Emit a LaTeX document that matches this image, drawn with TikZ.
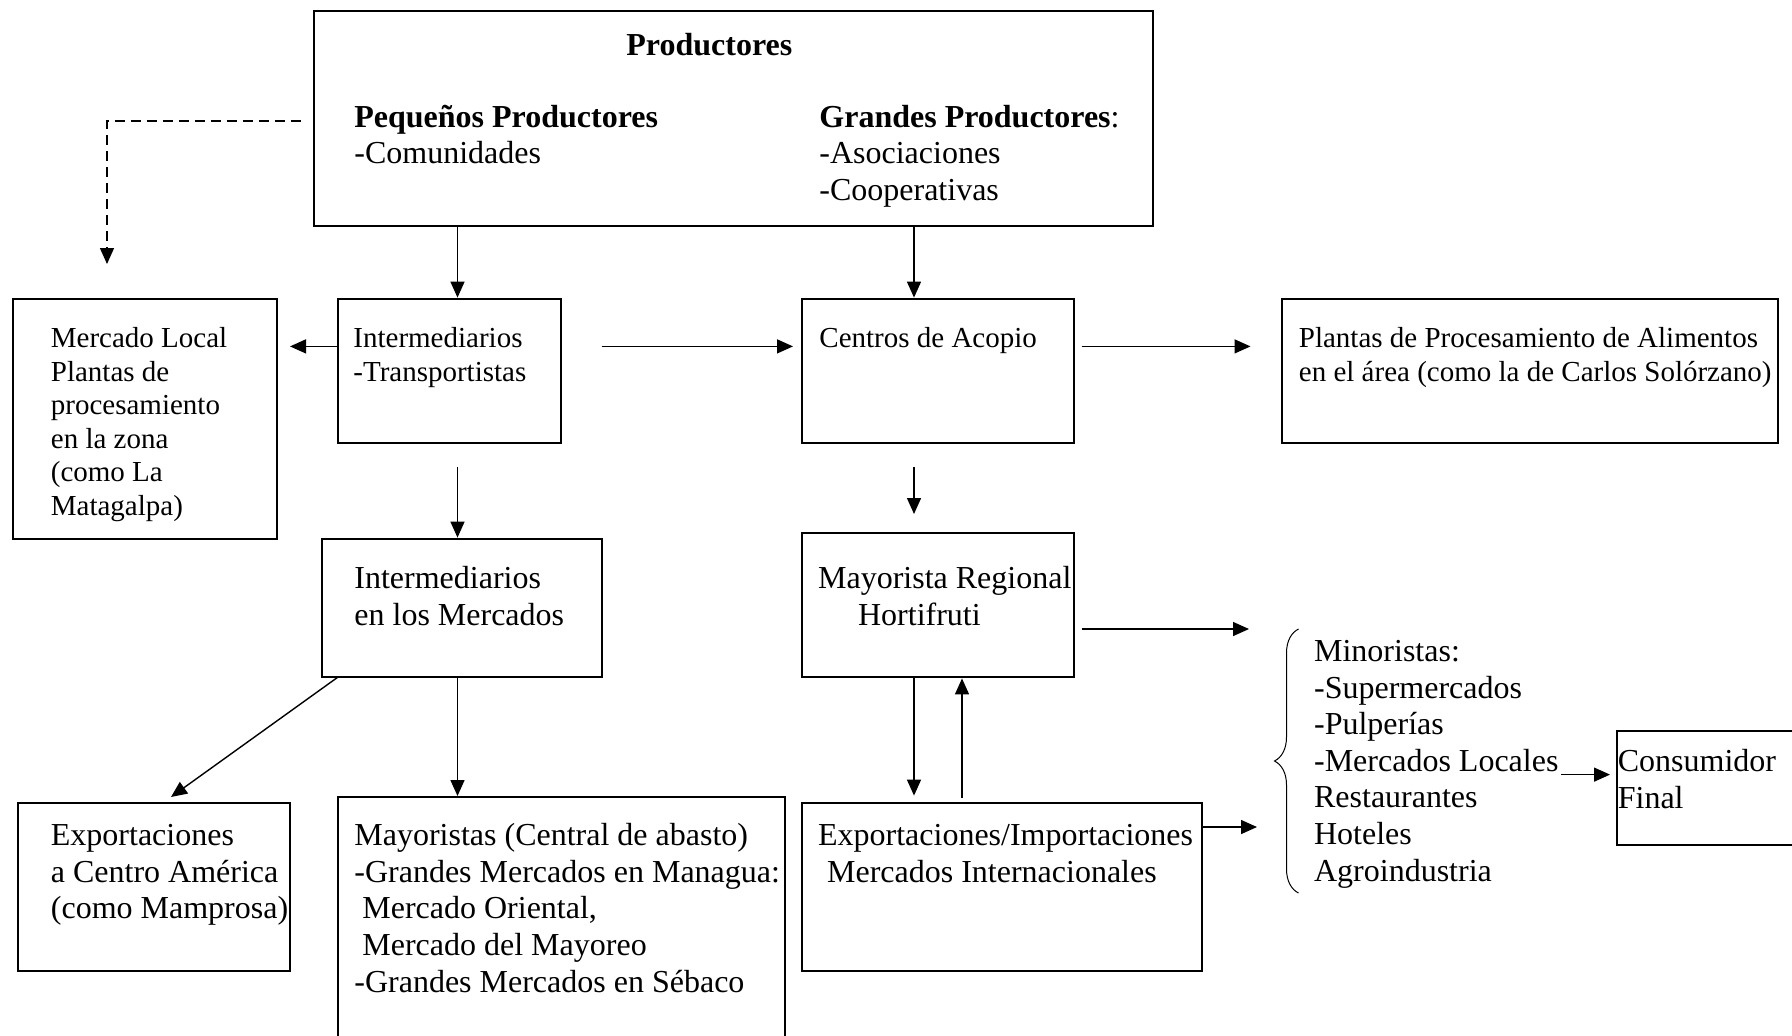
\documentclass[tikz,border=0pt]{standalone}
\usepackage{fontspec}
\setmainfont{Liberation Serif}
\usetikzlibrary{arrows.meta,fit,decorations.pathreplacing}
\newcommand\mylines[1]{\begin{tabular}[t]{@{}l@{}}#1\end{tabular}}
\begin{document}
\begin{tikzpicture}[x=0.5pt,y=-0.5pt,
  box/.style={draw,line width=1pt,inner sep=0pt},
  big/.style={inner sep=0pt,anchor=base west,font=\fontsize{16}{18.3}\selectfont},
  small/.style={inner sep=0pt,anchor=base west,font=\fontsize{14.5}{16.8}\selectfont},
  arr/.style={line width=0.7pt,-{Triangle[length=8pt,width=7pt]}},
  dasharr/.style={arr,dash pattern=on 5pt off 3pt}]
\useasboundingbox (0,0) rectangle (1792,1035);
\clip (0,0) rectangle (1792,1035);
% boxes
\node[box,fit={(314,11) (1153,226)}] (prod) {};
\node[box,fit={(12.6,299) (276.7,538.6)}] (mlocal) {};
\node[box,fit={(337.5,298.6) (561.4,443)}] (inter1) {};
\node[box,fit={(802,298.6) (1074,443)}] (centros) {};
\node[box,fit={(1282,298.6) (1777.5,443)}] (plantas) {};
\node[box,fit={(322,538.6) (601.6,677.4)}] (inter2) {};
\node[box,fit={(802,533) (1074,677.4)}] (mayor) {};
\node[box,fit={(18.4,802.6) (290,971)}] (exp1) {};
\node[box,fit={(338,797) (785,1060)}] (mayoristas) {};
\node[box,fit={(802,802.6) (1201.7,971)}] (expimp) {};
\node[box,fit={(1617.4,731) (1810,845.3)}] (consum) {};
% texts
\node[big,font=\fontsize{16}{18.3}\selectfont\bfseries] (tprod) at (626,55) {Productores};
\node[big] (tpeq) at (354,127) {\mylines{\textbf{Pequeños Productores}\\-Comunidades}};
\node[big] (tgra) at (819,127) {\mylines{\textbf{Grandes Productores}:\\-Asociaciones\\-Cooperativas}};
\node[small] (tmlocal) at (50.5,347.5) {\mylines{Mercado Local\\Plantas de\\procesamiento\\en la zona\\(como La\\Matagalpa)}};
\node[small] (tinter1) at (353,347.5) {\mylines{Intermediarios\\-Transportistas}};
\node[small] (tcentros) at (819,347.5) {Centros de Acopio};
\node[small] (tplantas) at (1298.5,347.5) {\mylines{Plantas de Procesamiento de Alimentos\\en el área (como la de Carlos Solórzano)}};
\node[big] (tinter2) at (354,588.5) {\mylines{Intermediarios\\en los Mercados}};
\node[big] (tmayor) at (817.7,588.5) {\mylines{Mayorista Regional\\\hspace*{20pt}Hortifruti}};
\node[big] (texp1) at (50.5,845.7) {\mylines{Exportaciones\\a Centro América\\(como Mamprosa)}};
\node[big] (tmayoristas) at (354,845.7) {\mylines{Mayoristas (Central de abasto)\\-Grandes Mercados en Managua:\\\hspace*{4pt}Mercado Oriental,\\\hspace*{4pt}Mercado del Mayoreo\\-Grandes Mercados en Sébaco}};
\node[big] (texpimp) at (817.7,845.7) {\mylines{Exportaciones/Importaciones\\\hspace*{4.5pt}Mercados Internacionales}};
\node[big] (tmin) at (1313.7,661.4) {\mylines{Minoristas:\\-Supermercados\\-Pulperías\\-Mercados Locales\\Restaurantes\\Hoteles\\Agroindustria}};
\node[big] (tcons) at (1617.4,771.7) {\mylines{Consumidor\\Final}};
% helper coordinates
\coordinate (cL) at (457.5,0);
\coordinate (cR) at (914,0);
\coordinate (cU) at (962,0);
\coordinate (dashS) at (301,121);
\coordinate (dashE) at (107,264);
\coordinate (a3e) at (290,346.4);
\coordinate (a4s) at (601.6,346.4);
\coordinate (a4e) at (793,346.4);
\coordinate (a6s) at (1081.5,346.4);
\coordinate (a6e) at (1250.5,346.4);
\coordinate (a7s) at (457.5,466.8);
\coordinate (a8s) at (914,467);
\coordinate (a8e) at (914,514);
\coordinate (a9s) at (337.5,677.4);
\coordinate (a9e) at (171,797);
\coordinate (a11s) at (1081.5,629);
\coordinate (a11e) at (1249,629);
\coordinate (a14e) at (1257,827);
\coordinate (a15s) at (1561,774.6);
\coordinate (a15e) at (1610,774.6);
\coordinate (brB) at (1298.5,893);
\coordinate (brT) at (1298.5,629);
% connectors
\draw[dasharr] (dashS) -| (dashE);
\draw[arr] (prod.south -| cL) -- (inter1.north -| cL);
\draw[arr] (inter1.west |- a3e) -- (a3e);
\draw[arr] (a4s) -- (a4e);
\draw[arr] (prod.south -| cR) -- (centros.north -| cR);
\draw[arr] (a6s) -- (a6e);
\draw[arr] (a7s) -- (inter2.north -| cL);
\draw[arr] (a8s) -- (a8e);
\draw[arr] (a9s) -- (a9e);
\draw[arr] (inter2.south -| cL) -- (mayoristas.north -| cL);
\draw[arr] (a11s) -- (a11e);
\draw[arr] (mayor.south -| cR) -- ([yshift=3pt]expimp.north -| cR);
\draw[arr] ([yshift=2pt]expimp.north -| cU) -- (mayor.south -| cU);
\draw[arr] (expimp.east |- a14e) -- (a14e);
\draw[arr] (a15s) -- (a15e);
% brace
\draw[line width=0.5pt,decorate,decoration={brace,amplitude=12pt}] (brB) -- (brT);
\end{tikzpicture}
\end{document}
